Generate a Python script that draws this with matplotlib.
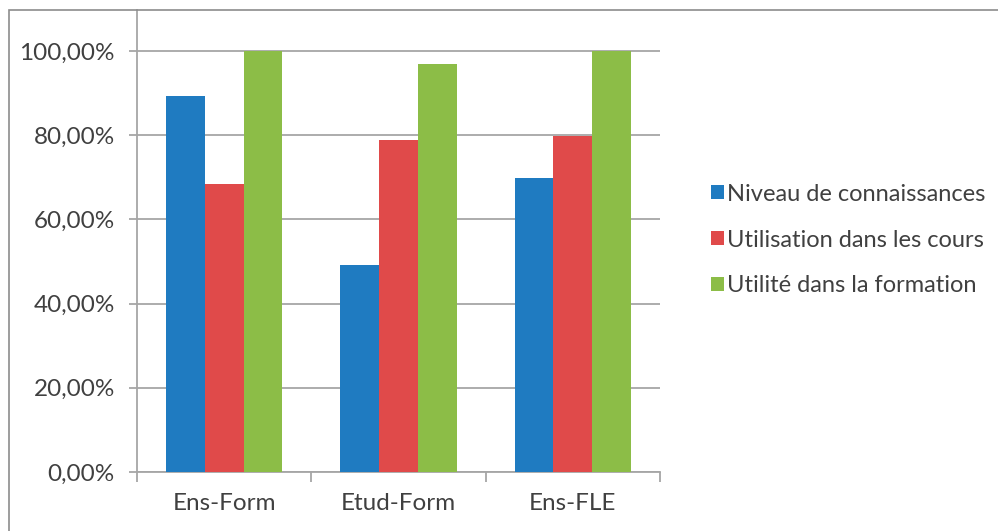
import matplotlib
matplotlib.use('Agg')
import matplotlib.pyplot as plt
import numpy as np
from matplotlib.patches import Rectangle
from matplotlib.ticker import FuncFormatter

categories = ["Ens-Form", "Etud-Form", "Ens-FLE"]
series_names = ["Niveau de connaissances", "Utilisation dans les cours", "Utilité dans la formation"]
niveau = [89.2, 49.2, 69.8]
utilisation = [68.3, 78.8, 79.8]
utilite = [100.0, 96.9, 100.0]
y_ticks = [0, 20, 40, 60, 80, 100]

colors = ["#1f7bc1", "#e04a4a", "#8cbd47"]
text_color = "#404040"
grid_color = "#a6a6a6"

plt.rcParams['font.family'] = ['Lato', 'DejaVu Sans']

W, H = 998, 531
fig = plt.figure(figsize=(W / 100, H / 100), dpi=100)

# plot area in pixel coordinates
left, right, top, bottom = 137, 660, 10, 472
ax = fig.add_axes([left / W, 1 - bottom / H, (right - left) / W, (bottom - top) / H])

x = np.arange(len(categories))
bar_w = 0.222
for i, (vals, name) in enumerate(zip([niveau, utilisation, utilite], series_names)):
    ax.bar(x + (i - 1) * bar_w, vals, width=bar_w, color=colors[i], label=name, zorder=3)

ax.set_xlim(-0.5, len(categories) - 0.5)
ax.set_ylim(0, 100 * (bottom - top) / (bottom - 51))
ax.set_yticks(y_ticks)
ax.yaxis.set_major_formatter(FuncFormatter(lambda v, _: f"{v:.2f}%".replace('.', ',')))
ax.grid(axis='y', color=grid_color, linewidth=1.3, zorder=0)

# category ticks sit on the boundaries, labels in the middle
ax.set_xticks(np.arange(len(categories) + 1) - 0.5)
ax.set_xticklabels([])
ax.set_xticks(x, minor=True)
ax.set_xticklabels(categories, minor=True)
ax.tick_params(axis='x', which='major', direction='out', length=7, width=1.3, color=grid_color)
ax.tick_params(axis='x', which='minor', length=0, pad=15, labelsize=17.5, labelcolor=text_color)
ax.tick_params(axis='y', direction='out', length=6, width=1.3, color=grid_color,
               pad=10, labelsize=17.5, labelcolor=text_color)

for side in ['top', 'right']:
    ax.spines[side].set_visible(False)
for side in ['left', 'bottom']:
    ax.spines[side].set_color(grid_color)
    ax.spines[side].set_linewidth(1.3)

leg = ax.legend(loc='center left', bbox_to_anchor=(699 / W, 1 - 240 / H), bbox_transform=fig.transFigure,
                frameon=False, fontsize=17, handlelength=0.55, handleheight=0.55, handletextpad=0.15,
                labelspacing=1.05, borderpad=0)
for t in leg.get_texts():
    t.set_color(text_color)

# outer frame of the chart
fig.patches.append(Rectangle((9 / W, -0.01), 1.0, 1 - 10 / H + 0.01, transform=fig.transFigure,
                             fill=False, edgecolor="#8c8c8c", linewidth=1.2))

fig.savefig("out.png", dpi=100)
